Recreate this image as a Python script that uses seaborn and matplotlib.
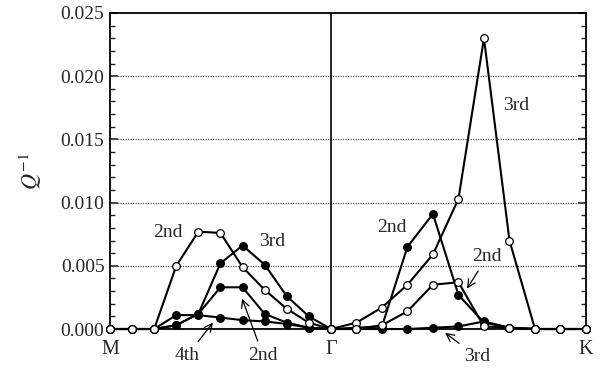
import numpy as np
import pandas as pd
import matplotlib
matplotlib.use("Agg")
import matplotlib.pyplot as plt
import seaborn as sns

# k-path sampling: 10 steps M->Gamma, 10 steps Gamma->K (|GK|/|GM| = 2/sqrt(3))
mg_k = np.arange(0, 11) * 1.0
gk_k = 10 + np.arange(0, 11) * (2 / np.sqrt(3))
tick_pos = [0, 10, gk_k[-1]]
tick_labels = ["M", "\u0393", "K"]

# M -> Gamma branch values (Q^-1)
mg_2nd_open = [0, 0, 0, 0.0050, 0.0077, 0.0076, 0.0049, 0.0031, 0.0016, 0.0005, 0]
mg_3rd_fill = [0, 0, 0, 0.0003, 0.0012, 0.0052, 0.0066, 0.0051, 0.0026, 0.0010, 0]
mg_2nd_fill = [0, 0, 0, 0.0003, 0.0012, 0.0033, 0.0033, 0.0012, 0.0005, 0.0001, 0]
mg_4th_fill = [0, 0, 0, 0.0011, 0.0011, 0.0009, 0.0007, 0.0006, 0.0004, 0.0001, 0]

# Gamma -> K branch values
gk_3rd_open = [0, 0.0005, 0.0017, 0.0035, 0.0059, 0.0103, 0.0230, 0.0070, 0, 0, 0]
gk_2nd_open = [0, 0, 0.0003, 0.0014, 0.0035, 0.0037, 0.0002, 0.0001, 0, 0, 0]
gk_2nd_fill = [0, 0.0001, 0.0002, 0.0065, 0.0091, 0.0027, 0.0005, 0.0001, 0, 0, 0]
gk_3rd_fill = [0, 0, 0, 0, 0.0001, 0.0002, 0.0006, 0.0001, 0, 0, 0]

sns.set_theme(style="ticks")
plt.rcParams["font.family"] = ["Liberation Serif", "DejaVu Serif"]
plt.rcParams["mathtext.fontset"] = "stix"

fig = plt.figure(figsize=(6.05, 3.70), dpi=100)
ax = fig.add_axes([0.1818, 0.1108, 0.7868, 0.8541])

line_kw = dict(color="black", linewidth=1.5, marker="o", markersize=5.5,
               markeredgecolor="black", markeredgewidth=0.9, clip_on=False)

filled = [(mg_k, mg_3rd_fill), (mg_k, mg_2nd_fill), (mg_k, mg_4th_fill),
          (gk_k, gk_2nd_fill), (gk_k, gk_3rd_fill)]
opened = [(mg_k, mg_2nd_open), (gk_k, gk_3rd_open), (gk_k, gk_2nd_open)]

for xs, ys in filled:
    sns.lineplot(x=xs, y=ys, ax=ax, markerfacecolor="black", zorder=3, **line_kw)
for xs, ys in opened:
    sns.lineplot(x=xs, y=ys, ax=ax, markerfacecolor="white", zorder=4, **line_kw)

ax.axvline(10, color="black", linewidth=1.2, zorder=2)
for g in [0.005, 0.010, 0.015, 0.020]:
    ax.axhline(g, color="0.35", linestyle=(0, (1, 1)), linewidth=0.9, zorder=1)

ax.set_xlim(0, gk_k[-1])
ax.set_ylim(0, 0.025)
ax.set_xticks(tick_pos)
ax.set_xticklabels(tick_labels, fontsize=14.5)
ax.tick_params(axis="x", length=0, pad=8)
ax.set_yticks(np.arange(0, 0.0251, 0.005))
ax.set_yticks(np.arange(0, 0.0251, 0.001), minor=True)
ax.set_yticklabels([f"{v:.3f}" for v in np.arange(0, 0.0251, 0.005)], fontsize=14)
ax.tick_params(axis="y", which="major", direction="in", length=6, width=1.2,
               left=True, right=True, pad=4)
ax.tick_params(axis="y", which="minor", direction="in", length=3.5, width=1.0,
               left=True, right=True)
for sp in ax.spines.values():
    sp.set_linewidth(1.3)
    sp.set_color("black")
ax.set_ylabel("$Q^{-1}$", fontsize=16, labelpad=12)

txt = dict(fontsize=14, ha="center", va="center")
arrow = dict(arrowstyle="->", color="black", lw=0.9, shrinkA=2, shrinkB=0)
ax.text(2.63, 0.0076, "2nd", **txt)
ax.text(7.33, 0.0069, "3rd", **txt)
ax.text(12.77, 0.0080, "2nd", **txt)
ax.text(18.38, 0.0177, "3rd", **txt)
ax.annotate("4th", xy=(4.66, 0.0005), xytext=(3.49, -0.0021),
            arrowprops=arrow, annotation_clip=False, **txt)
ax.annotate("2nd", xy=(5.98, 0.0024), xytext=(6.93, -0.0021),
            arrowprops=arrow, annotation_clip=False, **txt)
ax.annotate("2nd", xy=(16.16, 0.0032), xytext=(17.07, 0.0057),
            arrowprops=arrow, annotation_clip=False, **txt)
ax.annotate("3rd", xy=(15.17, -0.0003), xytext=(16.61, -0.0022),
            arrowprops=arrow, annotation_clip=False, **txt)

fig.savefig("out.png", dpi=100)
